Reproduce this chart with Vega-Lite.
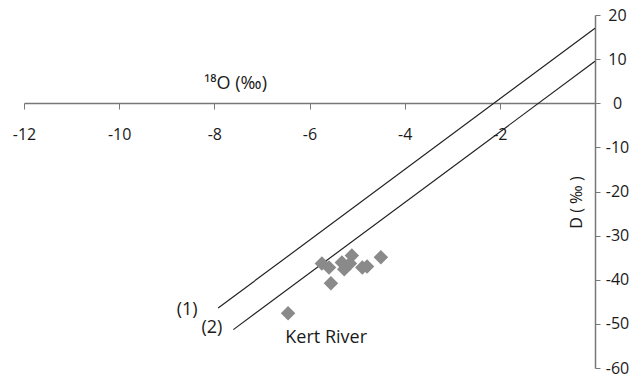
{
  "$schema": "https://vega.github.io/schema/vega-lite/v6.json",
  "width": 571,
  "height": 353,
  "autosize": "none",
  "padding": {"left": 24, "top": 15, "right": 37, "bottom": 10},
  "background": "white",
  "config": {"view": {"stroke": null}, "font": "Open Sans"},
  "datasets": {
    "lines": [
      {"line": "1", "x": -7.92, "y": -46.4},
      {"line": "1", "x": 0, "y": 17},
      {"line": "2", "x": -7.6, "y": -51.3},
      {"line": "2", "x": 0, "y": 9.5}
    ],
    "points": [
      {"x": -6.45, "y": -47.6},
      {"x": -5.74, "y": -36.3},
      {"x": -5.59, "y": -37.2},
      {"x": -5.55, "y": -40.8},
      {"x": -5.32, "y": -36.1},
      {"x": -5.27, "y": -37.6},
      {"x": -5.11, "y": -34.5},
      {"x": -5.15, "y": -36.3},
      {"x": -4.89, "y": -37.2},
      {"x": -4.79, "y": -37.0},
      {"x": -4.50, "y": -34.9}
    ],
    "labels": [
      {"x": -8.57, "y": -46.9, "text": "(1)"},
      {"x": -8.05, "y": -51.0, "text": "(2)"},
      {"x": -5.65, "y": -53.3, "text": "Kert River"}
    ]
  },
  "layer": [
    {
      "data": {"name": "lines"},
      "mark": {"type": "line", "color": "#222222", "strokeWidth": 1.2},
      "encoding": {
        "x": {
          "field": "x", "type": "quantitative",
          "scale": {"domain": [-12, 0], "nice": false, "zero": false},
          "axis": {
            "orient": "bottom", "offset": -265,
            "values": [-12, -10, -8, -6, -4, -2],
            "labelExpr": "'' + datum.value",
            "grid": false,
            "domainColor": "#777777", "domainWidth": 1.5,
            "tickColor": "#777777", "tickSize": 6, "tickWidth": 1,
            "labelFontSize": 16, "labelColor": "#1a1a1a", "labelPadding": 17,
            "labelFlush": false,
            "title": "¹⁸O (‰)", "titleX": 211, "titleY": -15,
            "titleBaseline": "alphabetic", "titleAlign": "center",
            "titleFontSize": 18, "titleFontWeight": "normal", "titleColor": "#1a1a1a"
          }
        },
        "y": {
          "field": "y", "type": "quantitative",
          "scale": {"domain": [-60, 20], "nice": false, "zero": false},
          "axis": {
            "orient": "right",
            "values": [-60, -50, -40, -30, -20, -10, 0, 10, 20],
            "labelExpr": "'' + datum.value",
            "grid": false,
            "domainColor": "#777777", "domainWidth": 1.5,
            "tickColor": "#777777", "tickSize": 5, "tickWidth": 1,
            "labelFontSize": 16, "labelColor": "#1a1a1a", "labelPadding": 17,
            "labelAlign": "center",
            "labelFlush": false,
            "title": "D ( ‰ )", "titleX": -19, "titleY": 187,
            "titleAngle": -90, "titleBaseline": "middle", "titleAlign": "center",
            "titleFontSize": 16, "titleFontWeight": "normal", "titleColor": "#1a1a1a"
          }
        },
        "detail": {"field": "line", "type": "nominal"}
      }
    },
    {
      "data": {"name": "points"},
      "mark": {"type": "point", "shape": "diamond", "filled": true, "color": "#8a8a8a", "opacity": 1, "size": 210},
      "encoding": {
        "x": {"field": "x", "type": "quantitative"},
        "y": {"field": "y", "type": "quantitative"}
      }
    },
    {
      "data": {"name": "labels"},
      "mark": {"type": "text", "fontSize": 18, "color": "#1a1a1a", "align": "center", "baseline": "middle"},
      "encoding": {
        "x": {"field": "x", "type": "quantitative"},
        "y": {"field": "y", "type": "quantitative"},
        "text": {"field": "text", "type": "nominal"}
      }
    }
  ]
}
